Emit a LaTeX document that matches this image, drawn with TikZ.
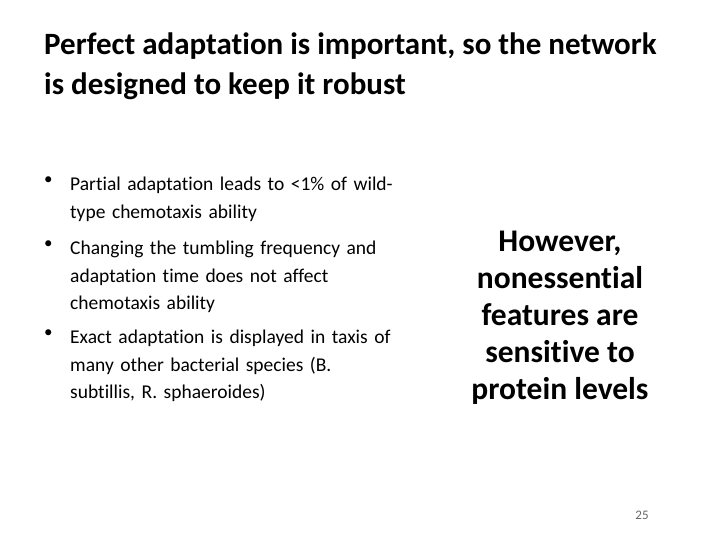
\documentclass[tikz,border=0pt]{standalone}
\usepackage{fontspec}
\setmainfont[RawFeature=-liga]{Carlito}
\begin{document}
\begin{tikzpicture}[x=1pt,y=-1pt,
  title/.style={anchor=west,font=\bfseries\fontsize{31}{36}\selectfont,inner sep=0},
  bul/.style={anchor=north west,font=\fontsize{19.5}{27.5}\selectfont,align=left,inner sep=0,text width=340pt},
  dot/.style={anchor=north west,font=\fontsize{17}{27.5}\selectfont,inner sep=0}]
\useasboundingbox[fill=white] (0,0) rectangle (720,540);
\node[title] (t1) at (44,46) {Perfect adaptation is important, so the network};
\node[title] (t2) at (44,86) {is designed to keep it robust};
\node[dot] (d1) at (44,177) {•};
\node[bul] (b1) at (70,177) {Partial adaptation leads to <1\% of wild-\\type chemotaxis ability};
\node[dot] (d2) at (44,241) {•};
\node[bul] (b2) at (70,241) {Changing the tumbling frequency and\\adaptation time does not affect\\chemotaxis ability};
\node[dot] (d3) at (44,330) {•};
\node[bul] (b3) at (70,330) {Exact adaptation is displayed in taxis of\\many other bacterial species (B.\\subtillis, R. sphaeroides)};
\node[font=\bfseries\fontsize{31.5}{37}\selectfont,align=center,inner sep=0] (r) at (560,318) {However,\\nonessential\\features are\\sensitive to\\protein levels};
\node[font=\fontsize{13}{15}\selectfont,text=gray!80!black,inner sep=0] (n) at (642,515) {25};
\end{tikzpicture}
\end{document}
